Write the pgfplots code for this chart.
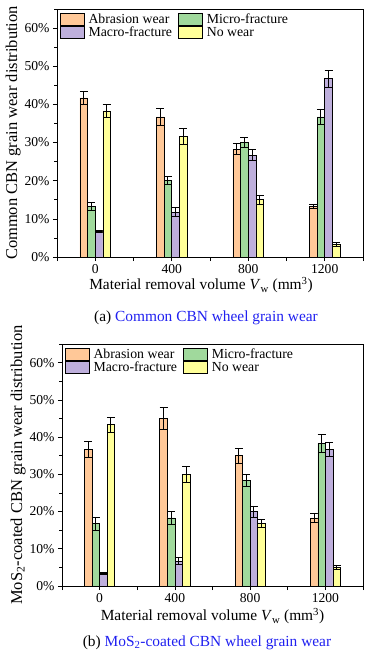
\documentclass[border=0pt]{standalone}
\usepackage{pgfplots}
\pgfplotsset{compat=1.18}
\usepackage{pgfplotstable}
\usepackage{fontspec}
\setmainfont{Liberation Serif}
\definecolor{cAbr}{HTML}{FFC898}
\definecolor{cMic}{HTML}{A0D99C}
\definecolor{cMac}{HTML}{BEAFDC}
\definecolor{cNo}{HTML}{FFFF99}
\definecolor{capblue}{HTML}{2020F0}

\pgfplotstableread{
x y e
0 41.7 1.8
400 36.7 2.2
800 28.3 1.5
1200 13.3 0.5
}\AabrA
\pgfplotstableread{
x y e
0 13.3 1.0
400 20.0 1.0
800 30.0 1.4
1200 36.7 2.0
}\AmicA
\pgfplotstableread{
x y e
0 6.7 0.2
400 11.7 1.2
800 26.7 1.4
1200 46.7 2.2
}\AmacA
\pgfplotstableread{
x y e
0 38.3 1.8
400 31.7 2.1
800 15.0 1.1
1200 3.3 0.5
}\AnoA

\pgfplotstableread{
x y e
0 36.7 2.2
400 45.0 3.0
800 35.0 2.0
1200 18.3 1.3
}\BabrB
\pgfplotstableread{
x y e
0 16.7 1.8
400 18.3 1.7
800 28.3 1.6
1200 38.3 2.5
}\BmicB
\pgfplotstableread{
x y e
0 3.3 0.3
400 6.7 0.9
800 20.0 1.5
1200 36.7 1.8
}\BmacB
\pgfplotstableread{
x y e
0 43.3 2.0
400 30.0 2.2
800 16.7 1.1
1200 5.0 0.6
}\BnoB

\newcommand\legfont{\fontsize{13.8}{16}\selectfont}
\pgfplotsset{
  mybars/.style={
    scale only axis,
    ybar,
    bar width=40,
    xmin=-200, xmax=1400,
    ymin=0, ymax=65,
    xtick={-200,0,...,1400},
    xticklabels={,0,,400,,800,,1200,},
    ytick={0,10,...,60},
    minor ytick={5,15,...,65},
    yticklabel={\pgfmathprintnumber{\tick}\%},
    tick align=outside,
    xtick pos=bottom, ytick pos=left,
    major tick length=4pt, minor tick length=2.5pt,
    tick style={black, line width=0.7pt},
    axis line style={line width=0.8pt},
    /pgf/number format/assume math mode=true,
    tick label style={font=\fontsize{13.6}{15}\selectfont},
    xlabel style={font=\fontsize{15.4}{17}\selectfont},
    ylabel style={font=\fontsize{16.5}{18}\selectfont, yshift=-3pt},
    xlabel={Material removal volume \textit{V}\textsubscript{w} (mm\textsuperscript{3})},
    legend columns=2,
    legend cell align=left,
    legend style={at={(0.005,0.99)}, anchor=north west, draw=none, fill=none,
      font=\legfont, row sep=0pt, inner sep=1pt,
      nodes={font=\legfont, inner sep=1pt},
      /tikz/every even column/.append style={column sep=5pt},
      /tikz/every odd column/.append style={column sep=3pt}},
    legend image code/.code={\draw[#1, line width=0.8pt] (0pt,-6pt) rectangle (24pt,6pt);},
    every axis plot/.append style={draw=black, line width=0.7pt},
    error bars/y dir=both,
    error bars/y explicit,
    error bars/error bar style={black, line width=0.9pt},
    error bars/error mark options={black, line width=0.9pt, mark size=4pt, rotate=90},
  },
}

\begin{document}
\begin{tikzpicture}
\useasboundingbox (0pt,0pt) rectangle (377pt,-654pt);
\begin{axis}[mybars, at={(57pt,-257pt)}, anchor=south west,
  width=306pt, height=248pt,
  xlabel style={yshift=3pt, xshift=-9pt},
  ylabel={Common CBN grain wear distribution}]
\addplot[fill=cAbr, bar shift=-60] table[x=x, y=y, y error=e] {\AabrA};
\addplot[fill=cMic, bar shift=-20] table[x=x, y=y, y error=e] {\AmicA};
\addplot[fill=cMac, bar shift=20] table[x=x, y=y, y error=e] {\AmacA};
\addplot[fill=cNo, bar shift=60] table[x=x, y=y, y error=e] {\AnoA};
\legend{Abrasion wear, Micro-fracture, Macro-fracture, No wear}
\end{axis}
\node[anchor=base, font=\fontsize{15.4}{17}\selectfont] at (206pt,-321pt) {(a) \textcolor{capblue}{Common CBN wheel grain wear}};

\begin{axis}[mybars, at={(62pt,-586pt)}, anchor=south west,
  width=301pt, height=242pt,
  xlabel style={yshift=1pt},
  ylabel={MoS\textsubscript{2}-coated CBN grain wear distribution}]
\addplot[fill=cAbr, bar shift=-60] table[x=x, y=y, y error=e] {\BabrB};
\addplot[fill=cMic, bar shift=-20] table[x=x, y=y, y error=e] {\BmicB};
\addplot[fill=cMac, bar shift=20] table[x=x, y=y, y error=e] {\BmacB};
\addplot[fill=cNo, bar shift=60] table[x=x, y=y, y error=e] {\BnoB};
\legend{Abrasion wear, Micro-fracture, Macro-fracture, No wear}
\end{axis}
\node[anchor=base, font=\fontsize{15.4}{17}\selectfont] at (207pt,-646pt) {(b) \textcolor{capblue}{MoS\textsubscript{2}-coated CBN wheel grain wear}};
\end{tikzpicture}
\end{document}
